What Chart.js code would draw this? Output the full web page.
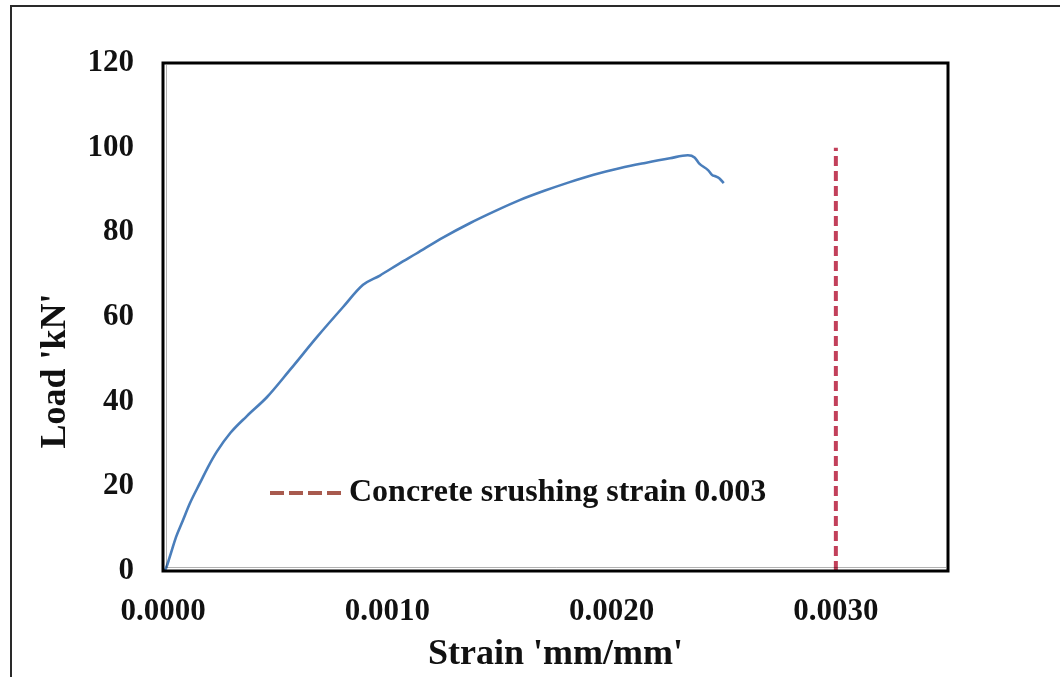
<!DOCTYPE html>
<html>
<head>
<meta charset="utf-8">
<title>Load - Strain</title>
<script src="https://cdn.jsdelivr.net/npm/chart.js@4.4.0/dist/chart.umd.min.js"></script>
<style>
  html, body { margin: 0; padding: 0; background: #fff; }
  #wrap { position: relative; width: 1060px; height: 677px; overflow: hidden; }
  #frame { position: absolute; left: 10px; top: 5px; width: 1070px; height: 700px;
           border-top: 2px solid #2a2a2a; border-left: 2px solid #2a2a2a; }
  #chart-strain { position: absolute; left: 0; top: 0; }
</style>
</head>
<body>
<div id="wrap">
  <div id="frame"></div>
  <canvas id="chart-strain" width="1060" height="677"></canvas>
</div>
<script>
// measured load vs. concrete strain
var strain = [0, 0.00001, 0.00003, 0.000058, 0.000089, 0.00012, 0.000165, 0.0002, 0.00024,
              0.0003, 0.000374, 0.000464, 0.000566, 0.000687, 0.000802, 0.000892, 0.000967,
              0.00105, 0.00113, 0.00125, 0.00137, 0.00148, 0.00159, 0.0017, 0.00181, 0.00192,
              0.00204, 0.00215, 0.00226, 0.00234, 0.00237, 0.00239, 0.00243, 0.00245, 0.00246,
              0.00248, 0.0025];
var load = [0, 0.3, 3.3, 8.0, 12.0, 16.0, 20.8, 24.5, 28.2,
            32.6, 36.6, 41.1, 47.5, 55.3, 62.3, 67.6, 69.8,
            72.5, 75.0, 78.8, 82.2, 85.0, 87.6, 89.8, 91.8, 93.6,
            95.2, 96.4, 97.5, 98.2, 97.7, 96.3, 94.7, 93.5, 93.3,
            92.8, 91.6];

// crushing strain reference line
var crushStrain = [0.003, 0.003];
var crushLoad = [0, 100];
var crushLabel = "Concrete srushing strain 0.003";

var xTicks = [0, 0.001, 0.002, 0.003];
var yTicks = [0, 20, 40, 60, 80, 100, 120];

var serif = "'Liberation Serif', 'Times New Roman', serif";
var lineRed = "#C2405A";

function toPoints(xs, ys) {
  return xs.map(function (x, i) { return { x: x, y: ys[i] }; });
}

// black box round the plot area, with a faint second line on left and bottom
var plotFrame = {
  id: "plotFrame",
  afterDatasetsDraw: function (chart) {
    var a = chart.chartArea, ctx = chart.ctx;
    ctx.save();
    ctx.strokeStyle = "#000";
    ctx.lineWidth = 3;
    ctx.strokeRect(a.left, a.top, a.right - a.left, a.bottom - a.top);
    ctx.strokeStyle = "rgba(0,0,0,0.3)";
    ctx.lineWidth = 1;
    ctx.beginPath();
    ctx.moveTo(a.left + 3.5, a.top + 2);
    ctx.lineTo(a.left + 3.5, a.bottom - 3.5);
    ctx.lineTo(a.right - 2, a.bottom - 3.5);
    ctx.stroke();
    ctx.restore();
  }
};

// legend entry for the dashed line, sitting inside the plot
var crushLegend = {
  id: "crushLegend",
  afterDraw: function (chart) {
    var ctx = chart.ctx;
    var ds = chart.data.datasets[1];
    var x0 = 270, y0 = 493;
    ctx.save();
    ctx.strokeStyle = "#A85A4E";
    ctx.lineWidth = 4;
    ctx.setLineDash([14, 5]);
    ctx.beginPath();
    ctx.moveTo(x0, y0);
    ctx.lineTo(x0 + 76, y0);
    ctx.stroke();
    ctx.setLineDash([]);
    ctx.fillStyle = "#111";
    ctx.font = "bold 32px " + serif;
    ctx.textBaseline = "middle";
    ctx.fillText(ds.label, x0 + 79, y0);
    ctx.restore();
  }
};

var ctx = document.getElementById("chart-strain").getContext("2d");

new Chart(ctx, {
  type: "scatter",
  data: {
    datasets: [{
      label: "Load",
      data: toPoints(strain, load),
      showLine: true,
      borderColor: "#4A7EBB",
      borderWidth: 2.6,
      pointRadius: 0,
      cubicInterpolationMode: "monotone",
      fill: false
    }, {
      label: crushLabel,
      data: toPoints(crushStrain, crushLoad),
      showLine: true,
      borderColor: lineRed,
      borderWidth: 4,
      borderDash: [10, 5],
      pointRadius: 0,
      fill: false
    }]
  },
  options: {
    responsive: false,
    animation: false,
    devicePixelRatio: 1,
    layout: {
      padding: { top: 63, right: 112, left: 0, bottom: 0 }
    },
    plugins: {
      legend: { display: false },
      tooltip: { enabled: false }
    },
    scales: {
      x: {
        type: "linear",
        min: 0,
        max: 0.0035,
        grid: { display: false, drawTicks: false },
        border: { display: false },
        afterBuildTicks: function (scale) {
          scale.ticks = xTicks.map(function (v) { return { value: v }; });
        },
        afterFit: function (scale) { scale.height = 106; },
        ticks: {
          padding: 22,
          color: "#111",
          maxRotation: 0,
          callback: function (v) { return Number(v).toFixed(4); },
          font: { family: serif, size: 31, weight: "bold" }
        },
        title: {
          display: true,
          text: "Strain 'mm/mm'",
          color: "#111",
          padding: { top: 0, bottom: 1 },
          font: { family: serif, size: 36, weight: "bold" }
        }
      },
      y: {
        type: "linear",
        min: 0,
        max: 120,
        grid: { display: false, drawTicks: false },
        border: { display: false },
        afterBuildTicks: function (scale) {
          scale.ticks = yTicks.map(function (v) { return { value: v }; });
        },
        afterFit: function (scale) { scale.width = 163; },
        ticks: {
          padding: 29,
          color: "#111",
          font: { family: serif, size: 31, weight: "bold" }
        },
        title: {
          display: true,
          // trailing spaces push the centred title down the axis
          text: "Load 'kN'" + " ".repeat(12),
          color: "#111",
          padding: { top: 34, bottom: 0 },
          font: { family: serif, size: 36, weight: "bold" }
        }
      }
    }
  },
  plugins: [plotFrame, crushLegend]
});
</script>
</body>
</html>
